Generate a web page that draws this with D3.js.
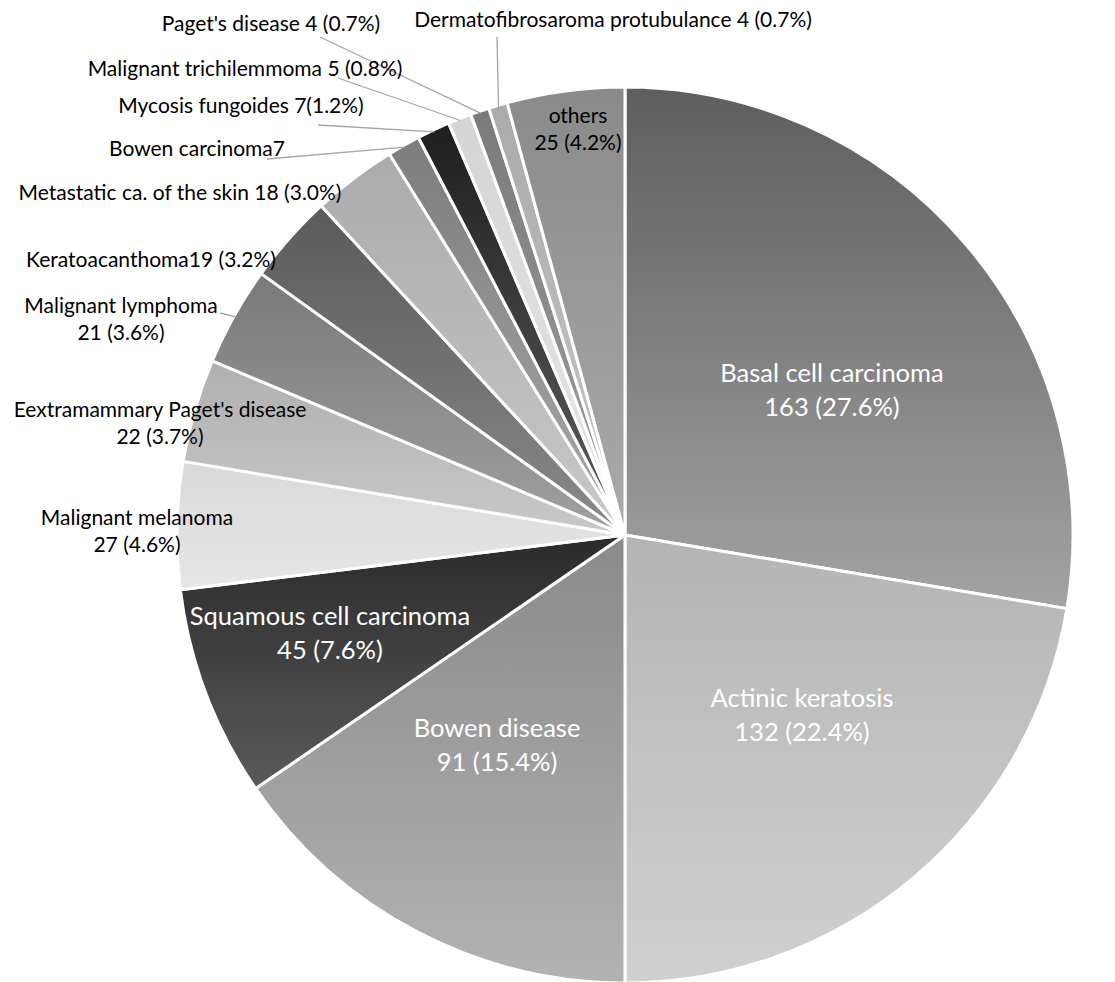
<!DOCTYPE html>
<html>
<head>
<meta charset="utf-8">
<script src="https://cdn.jsdelivr.net/npm/d3@7"></script>
<style>
    body { margin: 0; background: #fff; }
    #chart-container text { font-family: Lato, "Open Sans", sans-serif; }
</style>
</head>
<body>
<div id="chart-container"></div>
<script>
// Data, clockwise from 12 o'clock
const categories = [
    'Basal cell carcinoma', 'Actinic keratosis', 'Bowen disease', 'Squamous cell carcinoma',
    'Malignant melanoma', 'Eextramammary Paget\'s disease', 'Malignant lymphoma', 'Keratoacanthoma',
    'Metastatic ca. of the skin', 'Bowen carcinoma', 'Mycosis fungoides', 'Malignant trichilemmoma',
    'Paget\'s disease', 'Dermatofibrosaroma protubulance', 'others'
]
const counts = [163, 132, 91, 45, 27, 22, 21, 19, 18, 7, 7, 5, 4, 4, 25]
// label text as printed in the figure
const labelLines = [
    ['Basal cell carcinoma', '163 (27.6%)'],
    ['Actinic keratosis', '132 (22.4%)'],
    ['Bowen disease', '91 (15.4%)'],
    ['Squamous cell carcinoma', '45 (7.6%)'],
    ['Malignant melanoma', '27 (4.6%)'],
    ['Eextramammary Paget\'s disease', '22 (3.7%)'],
    ['Malignant lymphoma', '21 (3.6%)'],
    ['Keratoacanthoma19 (3.2%)'],
    ['Metastatic ca. of the skin 18 (3.0%)'],
    ['Bowen carcinoma7'],
    ['Mycosis fungoides 7(1.2%)'],
    ['Malignant trichilemmoma 5 (0.8%)'],
    ['Paget\'s disease 4 (0.7%)'],
    ['Dermatofibrosaroma protubulance 4 (0.7%)'],
    ['others', '25 (4.2%)']
]

// Styles
const gradTop = ['#5e5e5e', '#b4b4b4', '#8a8a8a', '#2a2a2a', '#d9d9d9', '#b0b0b0', '#7a7a7a', '#5a5a5a',
    '#ababab', '#7d7d7d', '#1e1e1e', '#d5d5d5', '#7a7a7a', '#aaaaaa', '#8a8a8a']
const gradBottom = ['#a3a3a3', '#d0d0d0', '#b2b2b2', '#5a5a5a', '#e6e6e6', '#c8c8c8', '#a0a0a0', '#8a8a8a',
    '#c8c8c8', '#a8a8a8', '#606060', '#e6e6e6', '#a0a0a0', '#c8c8c8', '#aaaaaa']

const bigFont = 25.5
const smallFont = 21
const bigLine = 34
const smallLine = 27

// Label layout: anchor point (centre x, first baseline), size, colour, leader line start
const labelLayout = [
    { x: 832, y: 382, big: true },
    { x: 802, y: 707, big: true },
    { x: 497, y: 737, big: true },
    { x: 330, y: 625, big: true },
    { x: 137, y: 525 },
    { x: 160, y: 417 },
    { x: 121, y: 313, leader: [220, 313] },
    { x: 151, y: 267 },
    { x: 180, y: 200 },
    { x: 197, y: 156, leader: [267, 159] },
    { x: 241, y: 113, leader: [318, 125] },
    { x: 245, y: 76, leader: [338, 78] },
    { x: 271, y: 31, leader: [320, 37] },
    { x: 613, y: 27, leader: [497, 37] },
    { x: 578, y: 123 }
]

const width = 1115
const height = 982
const cx = 625
const cy = 535
const radius = 448

const svg = d3.select('#chart-container')
    .append('svg')
    .attr('width', width)
    .attr('height', height)

const slices = d3.pie().sort(null).value(d => d)(counts)
const arc = d3.arc().innerRadius(0).outerRadius(radius)
const edgeArc = d3.arc().innerRadius(radius - 2).outerRadius(radius - 2)

// one vertical gradient per slice, darker at the top
const defs = svg.append('defs')
const grads = defs.selectAll('linearGradient')
    .data(categories)
    .enter()
    .append('linearGradient')
    .attr('id', (d, i) => 'g' + i)
    .attr('x1', 0).attr('y1', 0).attr('x2', 0).attr('y2', 1)
grads.append('stop').attr('offset', '0%').attr('stop-color', (d, i) => gradTop[i])
grads.append('stop').attr('offset', '100%').attr('stop-color', (d, i) => gradBottom[i])

const pie = svg.append('g')
    .attr('transform', `translate(${cx}, ${cy})`)

pie.selectAll('path')
    .data(slices)
    .enter()
    .append('path')
    .attr('d', arc)
    .attr('fill', (d, i) => `url(#g${i})`)
    .attr('stroke', '#fff')
    .attr('stroke-width', 3)
    .attr('stroke-linejoin', 'round')

// leader lines from the label to the slice edge
slices.forEach((s, i) => {
    const lay = labelLayout[i]
    if (!lay.leader) return
    const [ex, ey] = edgeArc.centroid(s)
    svg.append('line')
        .attr('x1', lay.leader[0])
        .attr('y1', lay.leader[1])
        .attr('x2', cx + ex)
        .attr('y2', cy + ey)
        .attr('stroke', '#a6a6a6')
        .attr('stroke-width', 1.3)
})

const labels = svg.append('g')
labelLines.forEach((lines, i) => {
    const lay = labelLayout[i]
    const t = labels.append('text')
        .attr('x', lay.x)
        .attr('y', lay.y)
        .attr('text-anchor', 'middle')
        .attr('font-size', lay.big ? bigFont : smallFont)
        .attr('fill', lay.big ? '#fff' : '#000')
    lines.forEach((line, j) => {
        t.append('tspan')
            .attr('x', lay.x)
            .attr('dy', j === 0 ? 0 : (lay.big ? bigLine : smallLine))
            .text(line)
    })
})
</script>
</body>
</html>
